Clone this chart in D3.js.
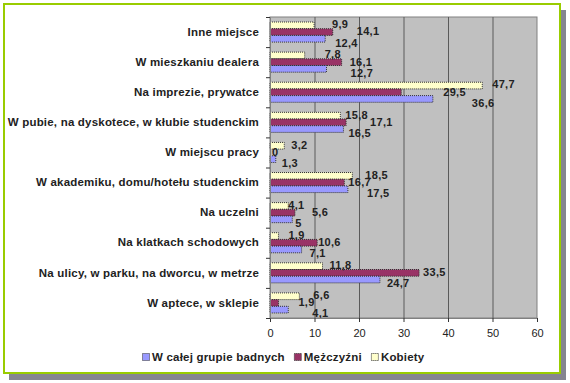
<!DOCTYPE html>
<html><head><meta charset="utf-8">
<script src="https://cdn.jsdelivr.net/npm/d3@7"></script>
<style>
html,body{margin:0;padding:0;background:#fff;}
svg{display:block;font-family:"Liberation Sans",Arial,sans-serif;}
</style></head>
<body><svg id="c" width="570" height="383"></svg>
<script>
// categories listed top to bottom
const categories = [
  "Inne miejsce",
  "W mieszkaniu dealera",
  "Na imprezie, prywatce",
  "W pubie, na dyskotece, w kłubie studenckim",
  "W miejscu pracy",
  "W akademiku, domu/hotełu studenckim",
  "Na uczelni",
  "Na klatkach schodowych",
  "Na ulicy, w parku, na dworcu, w metrze",
  "W aptece, w sklepie"
];
const seriesNames = ["W całej grupie badnych", "Mężczyźni", "Kobiety"];
const kobiety   = [9.9, 7.8, 47.7, 15.8, 3.2, 18.5, 4.1, 1.9, 11.8, 6.6];
const mezczyzni = [14.1, 16.1, 29.5, 17.1, 0, 16.7, 5.6, 10.6, 33.5, 1.9];
const calosc    = [12.4, 12.7, 36.6, 16.5, 1.3, 17.5, 5, 7.1, 24.7, 4.1];
const xTicks = [0, 10, 20, 30, 40, 50, 60];
// manual label nudges (px to the right of bar end), as placed in the original
const nudgeK = [18, 20, 10, 5, 7, 13, 0, 10, 7, 14];
const nudgeM = [24, 8, 42, 24, 2, 4, 17, 1, 4, 20];
const nudgeC = [10, 24, 39, 5, 6, 19, 3, 8, 7, 24];

const colors = {c: "#9999ff", m: "#993366", k: "#ffffcc"};
const svg = d3.select("#c");

// frame with shadow
svg.append("rect").attr("x", 9).attr("y", 10).attr("width", 557).attr("height", 370).attr("fill", "#858590");
svg.append("rect").attr("x", 4).attr("y", 4).attr("width", 556).attr("height", 369)
  .attr("fill", "#fff").attr("stroke", "#99cc00").attr("stroke-width", 2);

const L = 270, R = 537, T = 17, B = 318;
const x = d3.scaleLinear().domain([0, 60]).range([L, R]);
const y = d3.scaleBand().domain(categories).range([T, B]).paddingInner(0).paddingOuter(0);
const inner = d3.scaleBand().domain(["k", "m", "c"]).range([0, y.bandwidth()]).paddingInner(0).paddingOuter(0.75);

// plot area
svg.append("rect").attr("x", L).attr("y", T).attr("width", R - L).attr("height", B - T)
  .attr("fill", "#c0c0c0").attr("stroke", "#808080");

// gridlines
svg.append("g").selectAll("line").data(xTicks.slice(1, -1)).join("line")
  .attr("x1", d => x(d) + 0.5).attr("x2", d => x(d) + 0.5).attr("y1", T).attr("y2", B)
  .attr("stroke", "#5a5a5a").attr("stroke-width", 1);

const series = [
  {key: "k", vals: kobiety, nudge: nudgeK, dy: -1},
  {key: "m", vals: mezczyzni, nudge: nudgeM, dy: -0.5},
  {key: "c", vals: calosc, nudge: nudgeC, dy: 4}
];

const fmt = v => String(v).replace(".", ",");

series.forEach(s => {
  const g = svg.append("g");
  g.selectAll("rect").data(categories).join("rect")
    .attr("x", x(0))
    .attr("y", (d) => y(d) + inner(s.key))
    .attr("width", (d, i) => x(s.vals[i]) - x(0))
    .attr("height", inner.bandwidth())
    .attr("fill", colors[s.key])
    .attr("stroke", "#333")
    .attr("stroke-width", 1)
    .attr("stroke-dasharray", "1,1");
});
series.forEach(s => {
  svg.append("g").selectAll("text").data(categories).join("text")
    .attr("x", (d, i) => x(s.vals[i]) + s.nudge[i])
    .attr("y", d => y(d) + inner(s.key) + inner.bandwidth() / 2 + s.dy)
    .attr("dy", "0.35em")
    .attr("font-size", "11px").attr("font-weight", "bold").attr("fill", "#222")
    .attr("letter-spacing", "0.3px")
    .text((d, i) => fmt(s.vals[i]));
});

// x axis
const xa = svg.append("g").attr("transform", `translate(0,${B})`)
  .call(d3.axisBottom(x).tickValues(xTicks).tickSize(4).tickPadding(7).tickFormat(d3.format("d")));
xa.select(".domain").attr("stroke", "#808080");
xa.selectAll(".tick line").attr("stroke", "#333");
xa.selectAll("text").attr("font-size", "11px").attr("fill", "#222").attr("font-family", "Liberation Sans, Arial, sans-serif");

// y axis
const ya = svg.append("g").attr("transform", `translate(${L},0)`)
  .call(d3.axisLeft(y).tickSize(0).tickPadding(11));
ya.select(".domain").attr("stroke", "#808080");
ya.selectAll("text").attr("font-size", "11.5px").attr("font-weight", "bold").attr("fill", "#222")
  .attr("letter-spacing", "0.2px")
  .attr("font-family", "Liberation Sans, Arial, sans-serif");
// tick marks at category boundaries
const bounds = categories.map(c => y(c)).concat([B]);
ya.append("g").selectAll("line").data(bounds).join("line")
  .attr("x1", -4).attr("x2", 0).attr("y1", d => d + 0.5).attr("y2", d => d + 0.5)
  .attr("stroke", "#333");

// legend
const legend = [
  {name: seriesNames[0], color: colors.c},
  {name: seriesNames[1], color: colors.m},
  {name: seriesNames[2], color: colors.k}
];
const lg = svg.append("g").attr("transform", "translate(142,357)");
let lx = 0;
legend.forEach(it => {
  const g = lg.append("g").attr("transform", `translate(${lx},0)`);
  g.append("rect").attr("x", 0.5).attr("y", -3.5).attr("width", 7).attr("height", 7)
    .attr("fill", it.color).attr("stroke", "#333").attr("stroke-dasharray", "1,1");
  const t = g.append("text").attr("x", 10).attr("y", 0).attr("dy", "0.35em")
    .attr("font-size", "11.5px").attr("font-weight", "bold").attr("fill", "#222")
    .attr("letter-spacing", "0.2px").text(it.name);
  lx += 10 + t.node().getComputedTextLength() + 9;
});
</script>
</body></html>
